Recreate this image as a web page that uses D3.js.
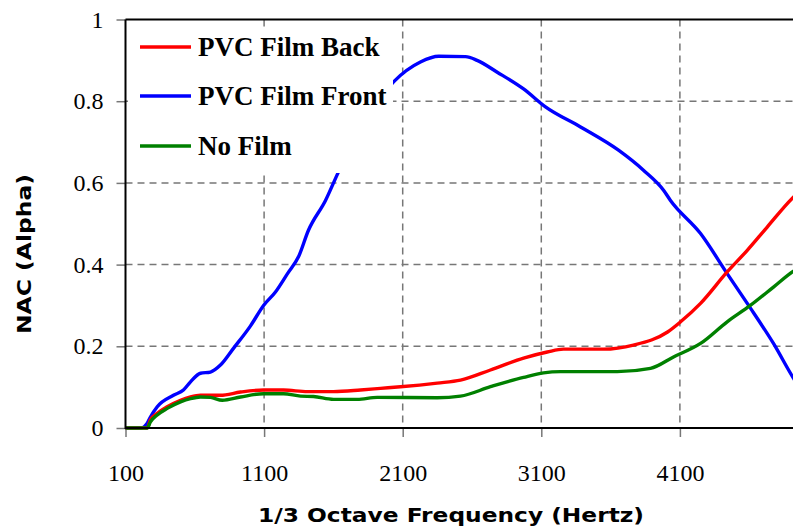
<!DOCTYPE html>
<html>
<head>
<meta charset="utf-8">
<script src="https://cdn.jsdelivr.net/npm/d3@7"></script>
<style>
  html, body { margin: 0; padding: 0; background: #fff; }
  svg { display: block; }
</style>
</head>
<body>
<svg id="chart" width="793" height="531"></svg>
<script>
// Normal absorption coefficient vs 1/3 octave frequency
const seriesNames = ["PVC Film Back", "PVC Film Front", "No Film"];
const seriesColors = ["#ff0000", "#0000ff", "#008000"];

const backFreq = [100, 257, 280, 329, 401, 497, 569, 641, 785, 930, 1096, 1240, 1413, 1601, 1796, 1940, 2084, 2349, 2517, 2733, 2972, 3143, 3260, 3549, 3765, 4011, 4105, 4249, 4441, 4586, 4730, 4910, 5000];
const backAlpha = [0, 0, 0.02, 0.036, 0.052, 0.068, 0.076, 0.08, 0.08, 0.088, 0.093, 0.093, 0.089, 0.089, 0.093, 0.097, 0.101, 0.11, 0.117, 0.142, 0.171, 0.186, 0.193, 0.193, 0.203, 0.235, 0.26, 0.305, 0.382, 0.435, 0.492, 0.562, 0.59];

const frontFreq = [100, 208, 257, 280, 329, 446, 518, 569, 641, 713, 785, 879, 1002, 1096, 1182, 1269, 1348, 1420, 1543, 1637, 2036, 2228, 2360, 2553, 2637, 2782, 2972, 3130, 3383, 3657, 3837, 3982, 4032, 4249, 4441, 4586, 4775, 4919, 5000];
const frontAlpha = [0, 0, 0.012, 0.027, 0.052, 0.08, 0.093, 0.113, 0.134, 0.137, 0.154, 0.195, 0.25, 0.3, 0.333, 0.378, 0.419, 0.484, 0.557, 0.627, 0.848, 0.896, 0.91, 0.909, 0.9, 0.871, 0.83, 0.786, 0.737, 0.68, 0.631, 0.582, 0.557, 0.476, 0.378, 0.305, 0.207, 0.122, 0.08];

const noFilmFreq = [100, 257, 280, 329, 401, 497, 569, 641, 713, 798, 930, 1096, 1240, 1363, 1456, 1601, 1772, 1916, 2349, 2517, 2733, 2972, 3116, 3238, 3648, 3888, 4054, 4249, 4441, 4608, 4775, 4919, 5000];
const noFilmAlpha = [0, 0, 0.015, 0.032, 0.048, 0.064, 0.072, 0.076, 0.075, 0.068, 0.076, 0.084, 0.084, 0.078, 0.077, 0.07, 0.07, 0.075, 0.074, 0.078, 0.101, 0.124, 0.135, 0.138, 0.138, 0.146, 0.174, 0.207, 0.26, 0.3, 0.345, 0.384, 0.4];

const xTicks = [100, 1100, 2100, 3100, 4100];
const yTicks = [0, 0.2, 0.4, 0.6, 0.8, 1];
const yTickLabels = ["0", "0.2", "0.4", "0.6", "0.8", "1"];

const svg = d3.select("#chart");
const plotLeft = 125.5, plotTop = 19.5, plotBottom = 428;

const x = d3.scaleLinear().domain([100, 5000]).range([plotLeft, plotLeft + 4900 * 0.1386]);
const y = d3.scaleLinear().domain([0, 1]).range([plotBottom, plotTop]);

const gridColor = "#777";

// dashed grid
svg.append("g").selectAll("line").data(xTicks.slice(1)).join("line")
  .attr("x1", d => x(d)).attr("x2", d => x(d))
  .attr("y1", plotTop).attr("y2", plotBottom)
  .attr("stroke", gridColor).attr("stroke-width", 1.5)
  .attr("stroke-dasharray", "7,5");
svg.append("g").selectAll("line").data(yTicks.slice(1, -1)).join("line")
  .attr("x1", plotLeft).attr("x2", 793)
  .attr("y1", d => y(d)).attr("y2", d => y(d))
  .attr("stroke", gridColor).attr("stroke-width", 1.5)
  .attr("stroke-dasharray", "7,5");

// axes with outward ticks
const yAxis = d3.axisLeft(y).tickValues(yTicks).tickSize(9).tickFormat((d, i) => yTickLabels[i]);
const gy = svg.append("g").attr("transform", `translate(${plotLeft},0)`).call(yAxis);
gy.select(".domain").remove();
gy.selectAll(".tick line").attr("stroke", gridColor).attr("stroke-width", 1.5);
gy.selectAll(".tick text")
  .attr("x", -22)
  .attr("font-family", "'Liberation Serif', serif")
  .attr("font-size", 24).attr("fill", "#000");

const xAxis = d3.axisBottom(x).tickValues(xTicks).tickSize(9).tickFormat(d3.format("d"));
const gx = svg.append("g").attr("transform", `translate(0,${plotBottom})`).call(xAxis);
gx.select(".domain").remove();
gx.selectAll(".tick line").attr("stroke", gridColor).attr("stroke-width", 1.5);
gx.selectAll(".tick text")
  .attr("y", 36)
  .attr("font-family", "'Liberation Serif', serif")
  .attr("font-size", 24).attr("fill", "#000");

// series lines
const series = [
  { freq: backFreq, alpha: backAlpha },
  { freq: frontFreq, alpha: frontAlpha },
  { freq: noFilmFreq, alpha: noFilmAlpha }
];
const line = d3.line().x(d => x(d[0])).y(d => y(d[1])).curve(d3.curveMonotoneX);
const drawOrder = [1, 0, 2];
drawOrder.forEach(i => {
  const s = series[i];
  svg.append("path")
    .datum(d3.zip(s.freq, s.alpha))
    .attr("d", line)
    .attr("fill", "none")
    .attr("stroke", seriesColors[i])
    .attr("stroke-width", 3.4)
    .attr("stroke-linejoin", "round");
});

// frame
svg.append("line").attr("x1", plotLeft).attr("x2", plotLeft).attr("y1", plotTop).attr("y2", plotBottom + 1)
  .attr("stroke", "#000").attr("stroke-width", 2);
svg.append("line").attr("x1", plotLeft).attr("x2", 793).attr("y1", plotBottom).attr("y2", plotBottom)
  .attr("stroke", "#000").attr("stroke-width", 2);
svg.append("line").attr("x1", plotLeft).attr("x2", 793).attr("y1", plotTop).attr("y2", plotTop)
  .attr("stroke", "#000").attr("stroke-width", 2);

// legend
const legend = svg.append("g");
legend.append("rect").attr("x", 128).attr("y", 27).attr("width", 265).attr("height", 146).attr("fill", "#fff");
const rowY = [47, 96, 146];
seriesNames.forEach((name, i) => {
  legend.append("line")
    .attr("x1", 140).attr("x2", 191).attr("y1", rowY[i]).attr("y2", rowY[i])
    .attr("stroke", seriesColors[i]).attr("stroke-width", 3.5);
  legend.append("text")
    .attr("x", 198).attr("y", rowY[i] + 9)
    .attr("font-family", "'Liberation Serif', serif")
    .attr("font-weight", "bold").attr("font-size", 27)
    .text(name);
});

// axis titles
svg.append("text")
  .attr("x", 451).attr("y", 522)
  .attr("text-anchor", "middle")
  .attr("font-family", "'DejaVu Sans', sans-serif")
  .attr("font-weight", "bold").attr("font-size", 20)
  .attr("textLength", 386).attr("lengthAdjust", "spacingAndGlyphs")
  .text("1/3 Octave Frequency (Hertz)");
svg.append("text")
  .attr("transform", "translate(31,254) rotate(-90)")
  .attr("text-anchor", "middle")
  .attr("font-family", "'DejaVu Sans', sans-serif")
  .attr("font-weight", "bold").attr("font-size", 20)
  .attr("textLength", 160).attr("lengthAdjust", "spacingAndGlyphs")
  .text("NAC (Alpha)");
</script>
</body>
</html>
